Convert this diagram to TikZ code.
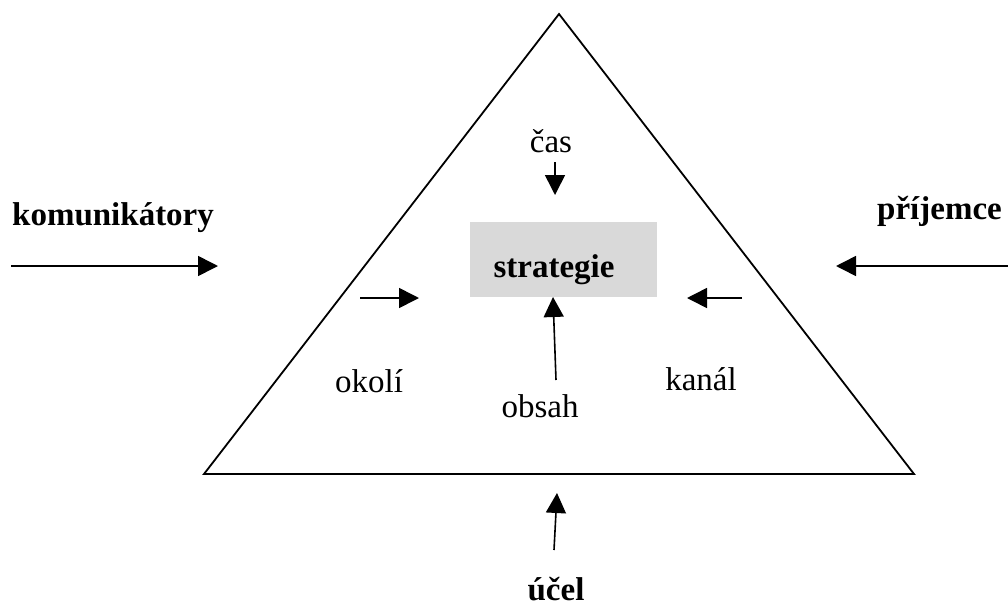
\documentclass[tikz,border=0pt]{standalone}
\usepackage{fontspec}
\setmainfont{Liberation Serif}
\usetikzlibrary{arrows.meta}
\tikzset{
  txt/.style={inner sep=0pt, anchor=base, font=\fontsize{33}{38}\selectfont},
  btxt/.style={inner sep=0pt, anchor=base, font=\fontsize{33}{38}\selectfont\bfseries},
  arr/.style={line width=1.6pt, -{Triangle[length=20pt,width=20pt]}},
  tri/.style={line width=1.8pt, line join=miter},
  box/.style={fill=black!15, draw=none, minimum width=187pt, minimum height=75pt, inner sep=0pt}
}
\begin{document}
\begin{tikzpicture}[x=1pt,y=-1pt]
\useasboundingbox (0,0) rectangle (1008,608);
% triangle
\coordinate (apex) at (559,14);
\coordinate (bl) at (204,474);
\coordinate (br) at (914,474);
\draw[tri] (apex) -- (bl) -- (br) -- cycle;
% central box
\node[box] (box) at (563.5,259.5) {};
\node[btxt] (strat) at (554,277) {strategie};
% outer labels
\node[btxt, anchor=base west] (kom) at (12,225) {komunikátory};
\node[btxt, anchor=base east] (pri) at (1002,219) {příjemce};
\node[btxt] (ucel) at (556,600) {účel};
% inner labels
\node[txt] (cas) at (551,152) {čas};
\node[txt] (okoli) at (369,392) {okolí};
\node[txt] (kanal) at (701,390) {kanál};
\node[txt] (obsah) at (540,417) {obsah};
% arrow endpoints
\coordinate (k1) at (11,266);  \coordinate (k2) at (218,266);
\coordinate (p1) at (1008,266); \coordinate (p2) at (836,266);
\coordinate (c1) at (555,162);  \coordinate (c2) at (555,195);
\coordinate (l1) at (360,298);  \coordinate (l2) at (419,298);
\coordinate (r1) at (742,298);  \coordinate (r2) at (687,298);
\coordinate (o1) at (556,380);  \coordinate (o2) at (553,297);
\coordinate (u1) at (554,550);  \coordinate (u2) at (557,493);
\draw[arr] (k1) -- (k2);
\draw[arr] (p1) -- (p2);
\draw[arr] (c1) -- (c2);
\draw[arr] (l1) -- (l2);
\draw[arr] (r1) -- (r2);
\draw[arr] (o1) -- (o2);
\draw[arr] (u1) -- (u2);
\end{tikzpicture}
\end{document}
